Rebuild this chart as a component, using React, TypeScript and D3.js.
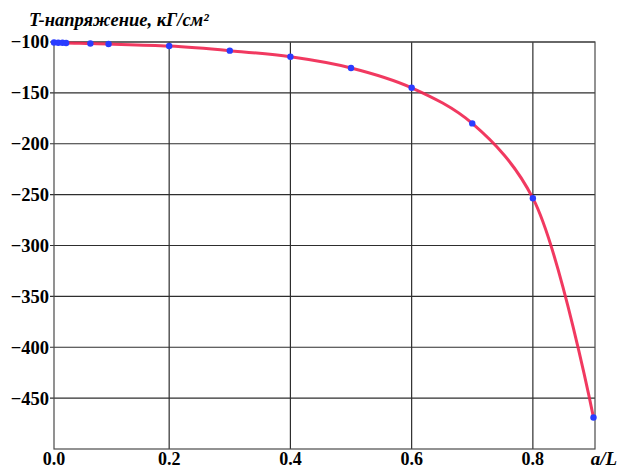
import React from "react";
import * as d3 from "d3";

const xVals = [0.01, 0.017, 0.024, 0.03, 0.07, 0.1, 0.2, 0.3, 0.4, 0.5, 0.6, 0.7, 0.8, 0.9];
const yVals = [-100.5, -100.7, -100.8, -101, -101.5, -102, -104, -108.5, -114.5, -125.5, -145, -180, -253.5, -469];
const xTicks = [0.01, 0.2, 0.4, 0.6, 0.8];
const yTicks = [-100, -150, -200, -250, -300, -350, -400, -450];
const title = "T-напряжение, кГ/см²";
const xLabel = "a/L";

export default function App() {
  const W = 619, H = 470;
  const x = d3.scaleLinear().domain([0.01, 0.9025]).range([54, 595]);
  const y = d3.scaleLinear().domain([-500, -100]).range([449, 42]);
  const pts = xVals.map((v, i) => [v, yVals[i]] as [number, number]);
  const line = d3.line<[number, number]>()
    .x(d => x(d[0])).y(d => y(d[1]))
    .curve(d3.curveCatmullRom.alpha(0.5));
  const font = "'Liberation Serif', 'DejaVu Serif', serif";
  const fmt = (v: number) => v.toFixed(1);
  const yfmt = (v: number) => "\u2212" + Math.abs(v);
  const [x0, x1] = x.range();
  const [y0, y1] = y.range();
  return (
    <svg width={W} height={H} style={{ position: "absolute", left: 0, top: 0, background: "#fff" }}>
      {xTicks.slice(1).map(t => (
        <line key={"gx" + t} x1={x(t)} x2={x(t)} y1={y1} y2={y0} stroke="#2e2e2e" strokeWidth={1.2} />
      ))}
      {yTicks.map(t => (
        <line key={"gy" + t} x1={x0 - 4} x2={x1} y1={y(t)} y2={y(t)} stroke="#2e2e2e" strokeWidth={1.2} />
      ))}
      <rect x={x0} y={y1} width={x1 - x0} height={y0 - y1} fill="none" stroke="#4a4a4a" strokeWidth={1.2} />
      <path d={line(pts) || ""} fill="none" stroke="#f0234f" strokeOpacity={0.9} strokeWidth={3} />
      {pts.map((p, i) => (
        <circle key={"p" + i} cx={x(p[0])} cy={y(p[1])} r={3.2} fill="#2a3cff" />
      ))}
      {yTicks.map(t => (
        <text key={"ly" + t} x={x0 - 5} y={y(t)} dy="0.35em" textAnchor="end"
          fontFamily={font} fontWeight="bold" fontSize={18.5} fill="#000">{yfmt(t)}</text>
      ))}
      {xTicks.map(t => (
        <text key={"lx" + t} x={x(t)} y={465} textAnchor="middle"
          fontFamily={font} fontWeight="bold" fontSize={18} fill="#000">{fmt(t)}</text>
      ))}
      <text x={29} y={26} fontFamily={font} fontWeight="bold" fontStyle="italic" fontSize={18.5} fill="#000">{title}</text>
      <text x={604} y={465} textAnchor="middle" fontFamily={font} fontWeight="bold" fontStyle="italic" fontSize={19} fill="#000">{xLabel}</text>
    </svg>
  );
}
